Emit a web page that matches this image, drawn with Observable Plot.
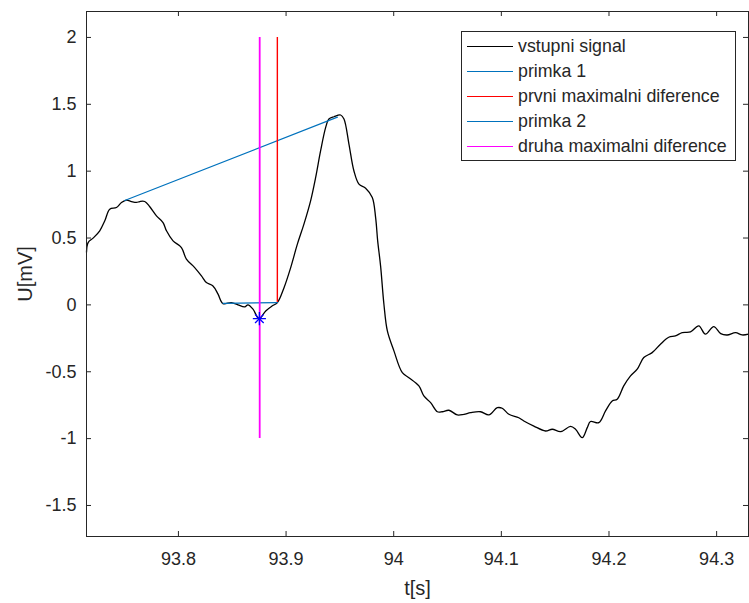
<!DOCTYPE html>
<html><head><meta charset="utf-8">
<script src="https://cdn.jsdelivr.net/npm/d3@7"></script>
<script src="https://cdn.jsdelivr.net/npm/@observablehq/plot@0.6"></script>
<style>
body{margin:0;background:#fff;}
#wrap{position:relative;width:749px;height:603px;font-family:"Liberation Sans",Arial,sans-serif;}
#legend{position:absolute;left:461px;top:31px;width:275px;height:130px;border:1px solid #262626;background:#fff;box-sizing:border-box;}
.row{position:absolute;left:0;height:22px;display:flex;align-items:center;font-size:17.8px;color:#262626;white-space:nowrap;}
.sw{width:46px;margin-left:5px;margin-right:5px;}
</style></head><body><div id="wrap"><div id="chart"></div><div id="legend"></div></div>
<script>
// vstupni signal
const tSig = [93.7146,93.7161,93.7207,93.7269,93.7316,93.7362,93.7424,93.7471,93.7517,93.7564,93.7610,93.7641,93.7687,93.7734,93.7796,93.7857,93.7889,93.7950,93.8028,93.8074,93.8151,93.8214,93.8260,93.8321,93.8368,93.8414,93.8492,93.8553,93.8616,93.8646,93.8693,93.8748,93.8811,93.8873,93.8919,93.8981,93.9043,93.9105,93.9166,93.9228,93.9275,93.9321,93.9368,93.9398,93.9445,93.9507,93.9538,93.9584,93.9630,93.9677,93.9739,93.9801,93.9832,93.9851,93.9878,93.9909,93.9941,94.0002,94.0080,94.0141,94.0234,94.0280,94.0343,94.0405,94.0451,94.0513,94.0591,94.0652,94.0714,94.0807,94.0884,94.0962,94.1008,94.1070,94.1162,94.1209,94.1302,94.1410,94.1473,94.1550,94.1643,94.1689,94.1751,94.1798,94.1828,94.1905,94.1968,94.2030,94.2076,94.2137,94.2200,94.2262,94.2323,94.2401,94.2478,94.2555,94.2617,94.2680,94.2757,94.2834,94.2896,94.2973,94.3038,94.3098,94.3176,94.3237,94.3296];
const uSig = [0.393,0.466,0.499,0.554,0.629,0.716,0.728,0.766,0.784,0.773,0.766,0.773,0.773,0.734,0.666,0.616,0.554,0.479,0.429,0.342,0.279,0.217,0.167,0.142,0.080,0.010,0.017,0.000,-0.015,0.000,-0.032,-0.103,-0.045,-0.007,0.017,0.129,0.279,0.454,0.604,0.778,0.953,1.153,1.327,1.390,1.407,1.420,1.390,1.203,1.003,0.903,0.873,0.803,0.653,0.479,0.292,0.005,-0.195,-0.344,-0.507,-0.544,-0.606,-0.681,-0.731,-0.799,-0.799,-0.788,-0.823,-0.818,-0.806,-0.799,-0.823,-0.769,-0.773,-0.818,-0.844,-0.868,-0.906,-0.943,-0.930,-0.948,-0.909,-0.930,-0.993,-0.918,-0.872,-0.881,-0.793,-0.719,-0.706,-0.606,-0.531,-0.481,-0.394,-0.357,-0.294,-0.242,-0.232,-0.207,-0.202,-0.157,-0.219,-0.162,-0.215,-0.225,-0.207,-0.225,-0.219];
// primka 1
const tP1 = [93.7501, 93.9477];
const uP1 = [0.781, 1.404];
// primka 2
const tP2 = [93.8414, 93.8919];
const uP2 = [0.012, 0.017];
// prvni maximalni diference (red)
const tRed = [93.8919];
const uRed = [0.017, 2];
// druha maximalni diference (magenta)
const tMag = [93.8755];
const uMag = [-1, 2];
// minimum marker
const tStar = [93.8752];
const uStar = [-0.103];

const xTicks = [93.8, 93.9, 94, 94.1, 94.2, 94.3];
const xTickLabels = ["93.8", "93.9", "94", "94.1", "94.2", "94.3"];
const yTicks = [-1.5, -1, -0.5, 0, 0.5, 1, 1.5, 2];
const yTickLabels = ["-1.5", "-1", "-0.5", "0", "0.5", "1", "1.5", "2"];
const xLabel = "t[s]";
const yLabel = "U[mV]";
const legendLabels = ["vstupni signal", "primka 1", "prvni maximalni diference", "primka 2", "druha maximalni diference"];
const legendColors = ["#000000", "#0072BD", "#FF0000", "#0072BD", "#FF00FF"];

const sig = tSig.map((t, i) => ({t, u: uSig[i]}));
const p1 = tP1.map((t, i) => ({t, u: uP1[i]}));
const p2 = tP2.map((t, i) => ({t, u: uP2[i]}));
const red = [{t: tRed[0], u1: uRed[0], u2: uRed[1]}];
const mag = [{t: tMag[0], u1: uMag[0], u2: uMag[1]}];
const star = [{t: tStar[0], u: uStar[0]}];

const W = 749, H = 603, mL = 86, mR = 1, mT = 11, mB = 67;
const iw = W - mL - mR, ih = H - mT - mB, tl = 5;
const axisColor = "#262626";

const chart = Plot.plot({
  width: W, height: H,
  marginLeft: mL, marginRight: mR, marginTop: mT, marginBottom: mB,
  style: {fontFamily: '"Liberation Sans", Arial, sans-serif', background: "#fff", overflow: "visible"},
  x: {domain: [93.7146, 94.3296]},
  y: {domain: [-1.732, 2.194]},
  marks: [
    Plot.line(sig, {x: "t", y: "u", stroke: "#000", strokeWidth: 1.3, curve: "catmull-rom"}),
    Plot.line(p1, {x: "t", y: "u", stroke: legendColors[1], strokeWidth: 1.2}),
    Plot.ruleX(red, {x: "t", y1: "u1", y2: "u2", stroke: legendColors[2], strokeWidth: 1.4}),
    Plot.line(p2, {x: "t", y: "u", stroke: legendColors[3], strokeWidth: 1.2}),
    Plot.ruleX(mag, {x: "t", y1: "u1", y2: "u2", stroke: legendColors[4], strokeWidth: 1.8}),
    Plot.dot(star, {x: "t", y: "u", symbol: "plus", r: 4.3, stroke: "#0000FF", strokeWidth: 1.3}),
    Plot.dot(star, {x: "t", y: "u", symbol: "times", r: 4.0, stroke: "#0000FF", strokeWidth: 1.3}),
    Plot.frame({stroke: axisColor, strokeWidth: 1}),
    Plot.tickY(yTicks, {y: d => d, stroke: axisColor, insetRight: iw - tl}),
    Plot.tickY(yTicks, {y: d => d, stroke: axisColor, insetLeft: iw - tl}),
    Plot.tickX(xTicks, {x: d => d, stroke: axisColor, insetTop: ih - tl}),
    Plot.tickX(xTicks, {x: d => d, stroke: axisColor, insetBottom: ih - tl}),
    Plot.axisY(yTicks, {tickSize: 0, tickPadding: 10, fontSize: 18, fill: axisColor, label: null,
      tickFormat: d => yTickLabels[yTicks.indexOf(d)]}),
    Plot.axisX(xTicks, {tickSize: 0, tickPadding: 16, fontSize: 18, fill: axisColor, label: null,
      tickFormat: d => xTickLabels[xTicks.indexOf(d)]}),
    Plot.text([xLabel], {text: d => d, frameAnchor: "bottom", dy: 52, fontSize: 20, fill: axisColor, lineAnchor: "middle"}),
    Plot.text([yLabel], {text: d => d, frameAnchor: "left", dx: -61, rotate: -90, fontSize: 20, fill: axisColor, lineAnchor: "middle", textAnchor: "middle"})
  ]
});
document.getElementById("chart").appendChild(chart);

const leg = document.getElementById("legend");
legendLabels.forEach((lab, i) => {
  const row = document.createElement("div");
  row.className = "row";
  row.style.top = (15.7 + 25 * i - 11 - 1) + "px";
  const sw = document.createElement("div");
  sw.className = "sw";
  sw.style.borderTop = "1.3px solid " + legendColors[i];
  const tx = document.createElement("span");
  tx.textContent = lab;
  row.appendChild(sw); row.appendChild(tx);
  leg.appendChild(row);
});
</script>
</body></html>
